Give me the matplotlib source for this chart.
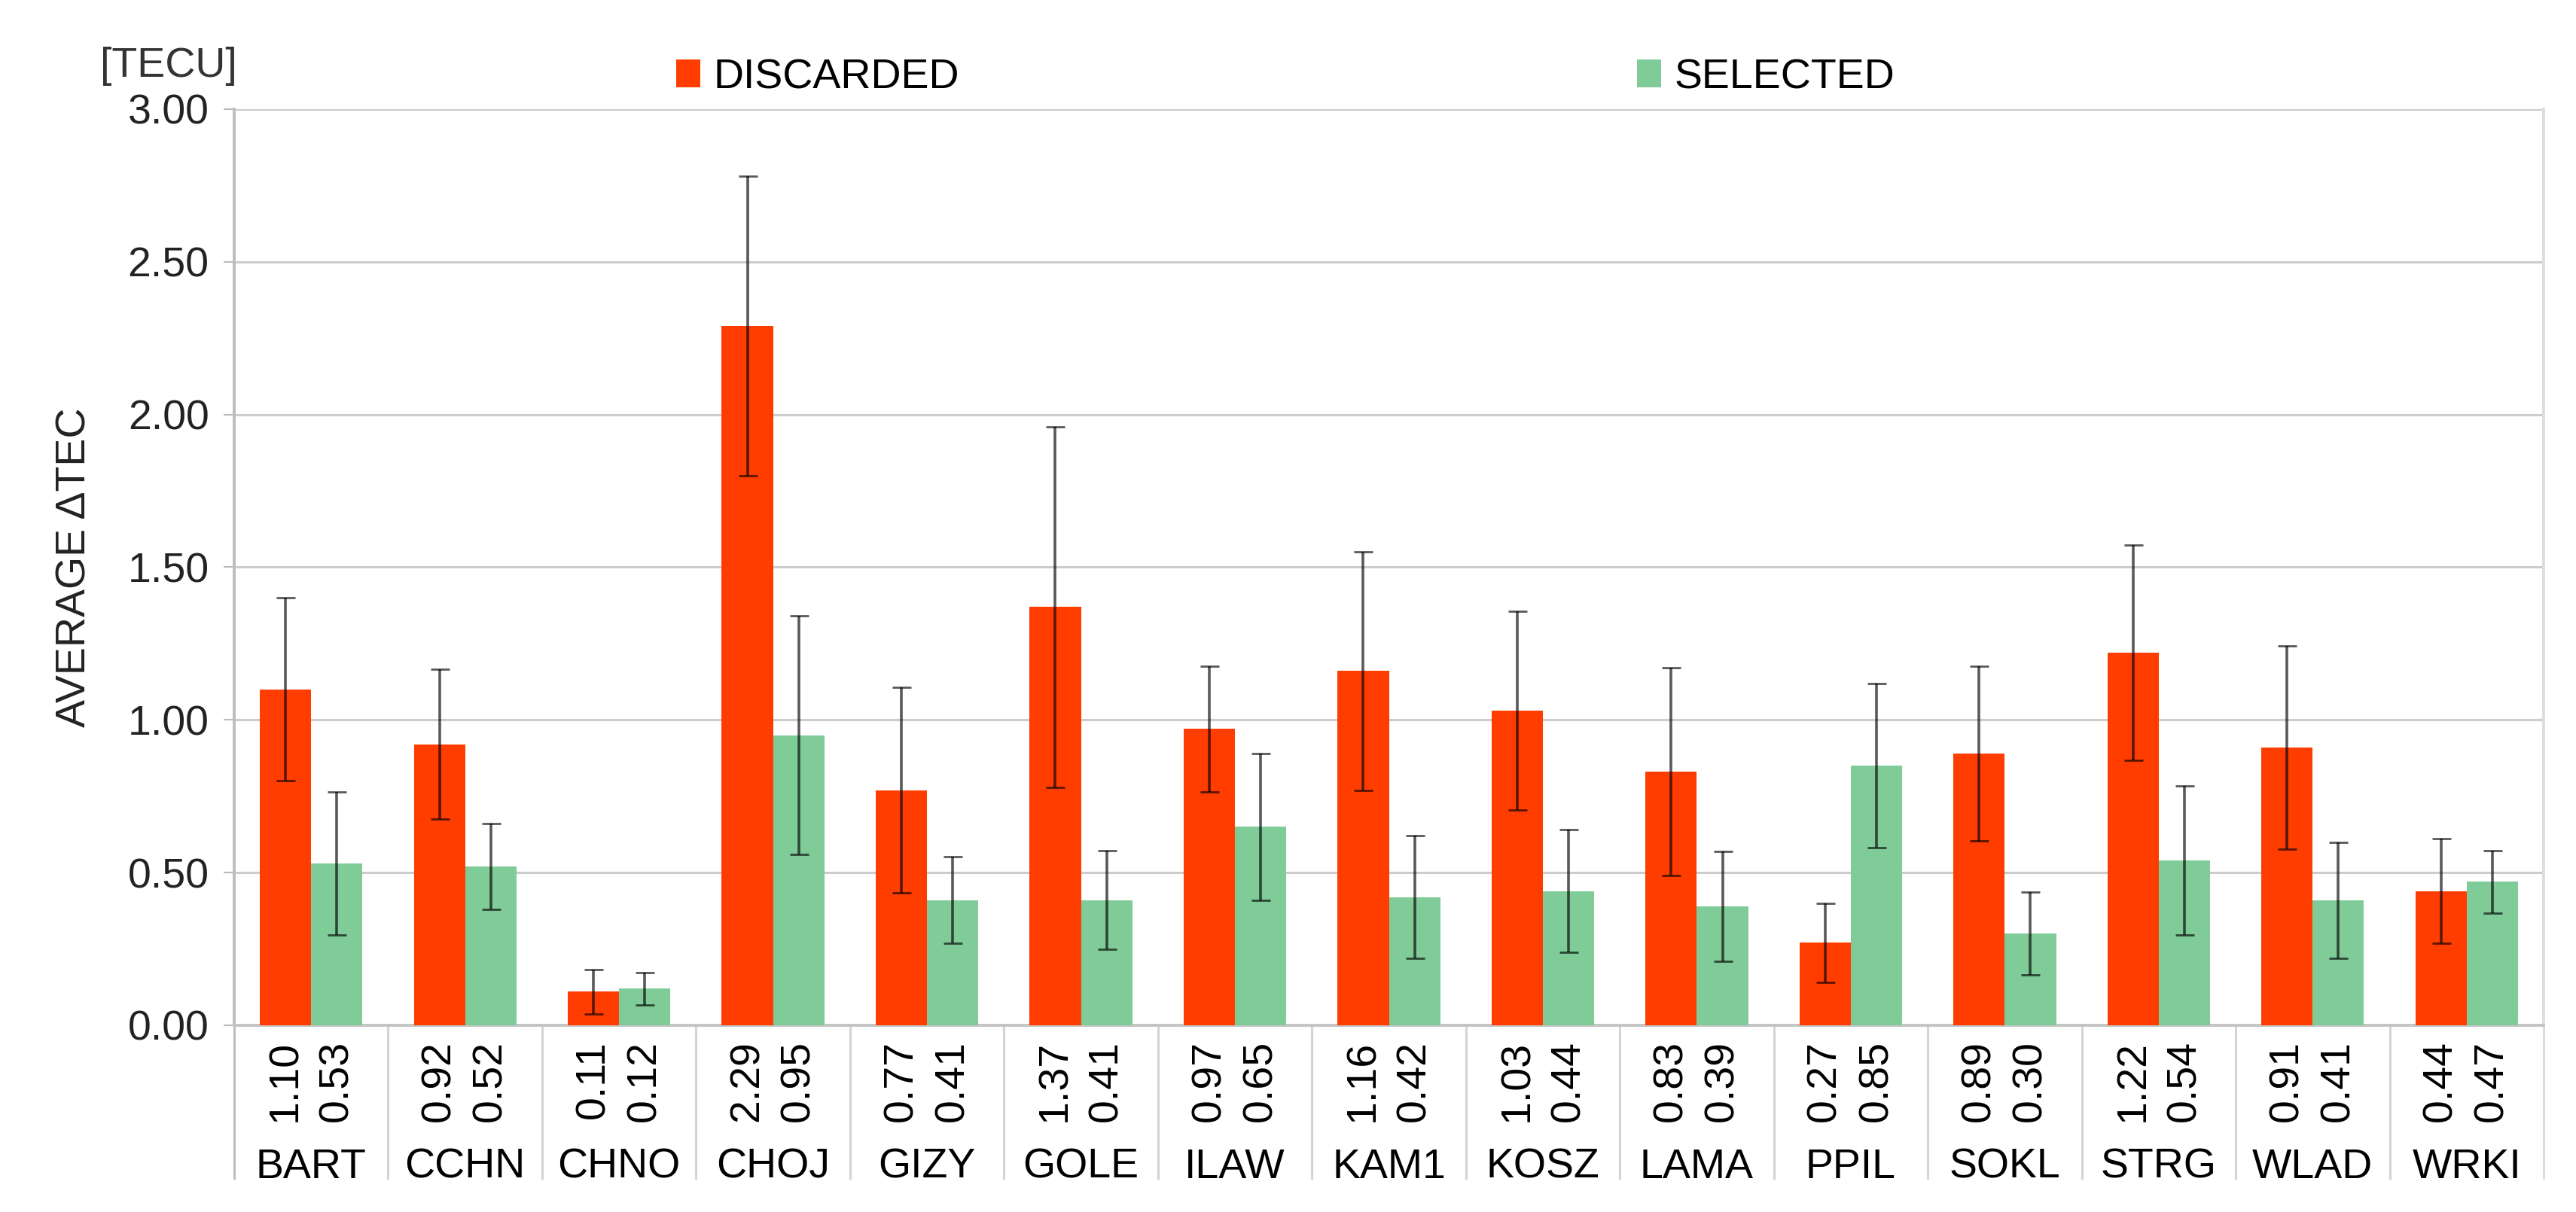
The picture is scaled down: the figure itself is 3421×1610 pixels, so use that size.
import numpy as np
import matplotlib
matplotlib.use('Agg')
import matplotlib.pyplot as plt

plt.rcParams['font.family'] = ['Liberation Sans', 'DejaVu Sans']

# data
stations = ['BART', 'CCHN', 'CHNO', 'CHOJ', 'GIZY', 'GOLE', 'ILAW', 'KAM1',
            'KOSZ', 'LAMA', 'PPIL', 'SOKL', 'STRG', 'WLAD', 'WRKI']
discarded = [1.10, 0.92, 0.11, 2.29, 0.77, 1.37, 0.97, 1.16, 1.03, 0.83, 0.27, 0.89, 1.22, 0.91, 0.44]
selected = [0.53, 0.52, 0.12, 0.95, 0.41, 0.41, 0.65, 0.42, 0.44, 0.39, 0.85, 0.30, 0.54, 0.41, 0.47]
discarded_err = [0.30, 0.245, 0.072, 0.49, 0.336, 0.59, 0.205, 0.39, 0.325, 0.34, 0.13, 0.286, 0.352, 0.333, 0.172]
selected_err = [0.235, 0.14, 0.053, 0.39, 0.142, 0.162, 0.24, 0.20, 0.20, 0.18, 0.268, 0.136, 0.243, 0.19, 0.102]

RED = '#ff3d00'
GREEN = '#80cc98'
GRID = '#cccccc'
TXT = '#222222'

fig = plt.figure(figsize=(34.21, 16.10), dpi=100)
ax = fig.add_axes([0.09091, 0.15404, 0.89652, 0.75590])

x = np.arange(len(stations))
w = 1 / 3.0
ekw = dict(ecolor=(0, 0, 0, 0.65), elinewidth=2.6, capsize=9, capthick=2.0)
b1 = ax.bar(x - w / 2, discarded, w, yerr=discarded_err, color=RED, error_kw=ekw, zorder=3)
b2 = ax.bar(x + w / 2, selected, w, yerr=selected_err, color=GREEN, error_kw=ekw, zorder=3)

ax.set_xlim(-0.5, len(stations) - 0.5)
ax.set_ylim(0, 3)
ax.set_yticks(np.arange(0, 3.01, 0.5))
ax.set_yticklabels(['%.2f' % v for v in np.arange(0, 3.01, 0.5)])
ax.yaxis.grid(True, color=GRID, linewidth=2.2, zorder=0)
ax.set_axisbelow(True)
ax.tick_params(axis='y', length=10, width=1.5, color='#bbbbbb', labelsize=40,
               labelcolor=TXT, pad=14)
ax.tick_params(axis='x', bottom=False, labelbottom=False)

for s in ['top']:
    ax.spines[s].set_visible(False)
ax.spines['left'].set_color('#bdbdbd')
ax.spines['left'].set_linewidth(2.8)
ax.spines['bottom'].set_color('#c4c4c4')
ax.spines['bottom'].set_linewidth(2.8)
ax.spines['right'].set_color('#dddddd')
ax.spines['right'].set_linewidth(2.8)

# table below the axis
trans = ax.get_xaxis_transform()
tab_bottom = -0.1668
for k in range(len(stations) + 1):
    c = '#bdbdbd' if k == 0 else ('#dddddd' if k == len(stations) else '#d4d4d4')
    ax.plot([k - 0.5, k - 0.5], [0, tab_bottom], transform=trans, color=c,
            linewidth=2.2, clip_on=False)

for i in range(len(stations)):
    ax.text(x[i] - w / 2, -0.0164, '%.2f' % discarded[i], transform=trans, rotation=90,
            ha='center', va='top', fontsize=40, color='black')
    ax.text(x[i] + w / 2, -0.0164, '%.2f' % selected[i], transform=trans, rotation=90,
            ha='center', va='top', fontsize=40, color='black')
    ax.text(x[i], tab_bottom, stations[i], transform=trans, ha='center', va='baseline',
            fontsize=40, color='black')

ax.set_ylabel('AVERAGE ΔTEC', fontsize=40, color=TXT, va='center')
ax.yaxis.set_label_coords(-0.0688, 0.5)

fig.text(224 / 3421, 1 - 88 / 1610, '[TECU]', ha='center', va='center', fontsize=40, color='#333333')

ax.legend([b1, b2], ['DISCARDED', 'SELECTED'], loc='center left',
          bbox_to_anchor=(898 / 3421, 1 - 103 / 1610), bbox_transform=fig.transFigure,
          ncol=2, frameon=False, fontsize=40, handlelength=0.57, handleheight=0.66,
          handletextpad=0.32, columnspacing=16.2, borderpad=0, borderaxespad=0)

fig.savefig('out.png', dpi=100)
